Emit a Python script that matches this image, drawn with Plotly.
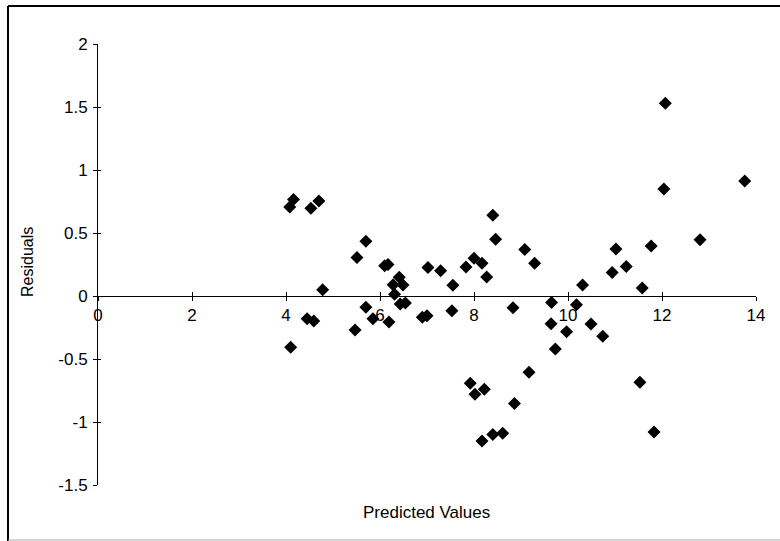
import plotly.graph_objects as go

predicted = [4.08, 4.16, 4.53, 4.70, 4.78, 4.10, 4.45, 4.59, 5.51, 5.70,
             5.47, 5.70, 5.85, 6.10, 6.17, 6.19, 6.28, 6.31, 6.41, 6.49,
             6.43, 6.54, 6.90, 7.00, 7.02, 7.29, 7.55, 7.53, 7.83, 8.00,
             8.17, 8.27, 8.40, 8.46, 8.83, 9.08, 9.29, 7.92, 8.02, 8.22,
             8.17, 8.40, 8.61, 8.86, 9.17, 9.65, 9.64, 9.73, 9.97, 10.18,
             10.31, 10.49, 10.74, 10.94, 11.02, 11.24, 11.58, 11.77, 11.53, 11.83,
             12.04, 12.07, 12.81, 13.76]
residuals = [0.707, 0.765, 0.696, 0.754, 0.05, -0.407, -0.18, -0.198, 0.305, 0.435,
             -0.27, -0.09, -0.18, 0.24, 0.25, -0.206, 0.09, 0.014, 0.149, 0.088,
             -0.063, -0.055, -0.168, -0.157, 0.226, 0.20, 0.085, -0.118, 0.23, 0.30,
             0.26, 0.15, 0.64, 0.45, -0.094, 0.37, 0.26, -0.693, -0.78, -0.74,
             -1.15, -1.10, -1.09, -0.853, -0.605, -0.052, -0.22, -0.42, -0.283, -0.069,
             0.088, -0.223, -0.319, 0.187, 0.374, 0.234, 0.063, 0.396, -0.685, -1.08,
             0.85, 1.53, 0.446, 0.913]

x_ticks = [0, 2, 4, 6, 8, 10, 12, 14]
x_ticktext = ["0", "2", "4", "6", "8", "10", "12", "14"]
y_ticks = [-1.5, -1, -0.5, 0, 0.5, 1, 1.5, 2]
y_ticktext = ["-1.5", "-1", "-0.5", "0", "0.5", "1", "1.5", "2"]

XR = [0, 14]
YR = [-1.5, 2]
zero_pos = (0 - YR[0]) / (YR[1] - YR[0])

FAM = "Liberation Sans, Arial, sans-serif"
font = dict(family=FAM, size=17, color="black")
yfont = dict(family=FAM, size=16, color="black")

fig = go.Figure()
fig.add_trace(go.Scatter(
    x=predicted, y=residuals, mode="markers",
    marker=dict(symbol="diamond", size=10, color="black"),
    showlegend=False, hoverinfo="x+y"))
fig.add_trace(go.Scatter(x=[None], y=[None], xaxis="x2", yaxis="y2",
                         showlegend=False, hoverinfo="skip"))

# plot area in pixels: x 98..756, y 44..485
L, R, T, B = 98, 24, 44, 56
W, H = 780, 541
pw, ph = W - L - R, H - T - B

def px(xp):
    return (xp - L) / pw

def py(yp):
    return (H - B - yp) / ph

fig.update_layout(
    width=W, height=H,
    margin=dict(l=L, r=R, t=T, b=B),
    paper_bgcolor="white", plot_bgcolor="white",
    font=font,
    xaxis=dict(range=XR, tickvals=x_ticks, ticktext=x_ticktext,
               anchor="free", position=zero_pos,
               showline=True, linecolor="black", linewidth=1,
               ticks="outside", ticklen=4, tickcolor="black", tickwidth=1,
               showgrid=False, zeroline=False, tickfont=font),
    yaxis=dict(range=YR, tickvals=y_ticks, ticktext=y_ticktext,
               showline=True, linecolor="black", linewidth=1,
               ticks="outside", ticklen=4, tickcolor="black", tickwidth=1,
               showgrid=False, zeroline=False, tickfont=font, ticklabelstandoff=2),
    xaxis2=dict(range=XR, tickvals=x_ticks, overlaying="x", anchor="free",
                position=zero_pos, showticklabels=False, showline=False,
                ticks="inside", ticklen=4, tickcolor="black", tickwidth=1,
                showgrid=False, zeroline=False),
    yaxis2=dict(range=YR, tickvals=y_ticks, overlaying="y", anchor="x2",
                showticklabels=False, showline=False,
                ticks="inside", ticklen=3, tickcolor="black", tickwidth=1,
                showgrid=False, zeroline=False),
    annotations=[
        dict(text="Residuals", x=px(27), y=py(262), xref="paper", yref="paper",
             textangle=-90, showarrow=False, font=yfont,
             xanchor="center", yanchor="middle"),
        dict(text="Predicted Values", x=px(426), y=py(512), xref="paper", yref="paper",
             showarrow=False, font=font, xanchor="center", yanchor="middle"),
    ],
    shapes=[
        dict(type="line", xref="paper", yref="paper", x0=px(8), x1=px(8),
             y0=py(6), y1=py(541), line=dict(color="black", width=2)),
        dict(type="line", xref="paper", yref="paper", x0=px(8), x1=px(780),
             y0=py(6), y1=py(6), line=dict(color="black", width=2)),
        dict(type="line", xref="paper", yref="paper", x0=px(8), x1=px(780),
             y0=py(540), y1=py(540), line=dict(color="#aaaaaa", width=1)),
    ],
)

fig.write_html("out.html", config={"displayModeBar": False},
               post_script="document.body.style.margin='0';document.body.style.overflow='hidden';")
